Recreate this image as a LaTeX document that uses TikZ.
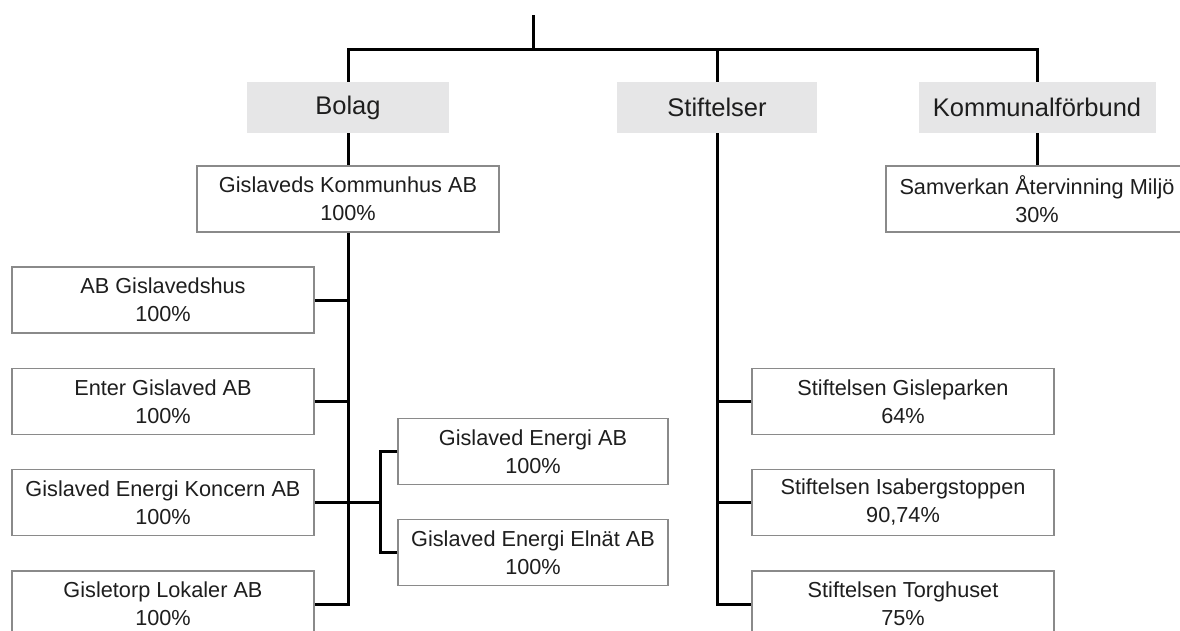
\documentclass[tikz,border=0pt]{standalone}
\usepackage{fontspec}
\setmainfont{Liberation Sans}
\definecolor{hdr}{HTML}{E6E6E7}
\definecolor{bord}{HTML}{8A8A8A}
\definecolor{txt}{HTML}{1E1E1E}
\tikzset{
  conn/.style={line width=3pt, black},
  hdrbox/.style={fill=hdr, draw=none, minimum height=51pt, inner sep=0pt, text=txt, font=\fontsize{25.5}{30}\selectfont},
  orgbox/.style={draw=bord, line width=1.5pt, fill=white, minimum height=66pt, inner sep=0pt, align=center, text=txt, font=\fontsize{21.7}{28}\selectfont},
}
\begin{document}
\begin{tikzpicture}[x=1pt, y=-1pt]
\useasboundingbox (0,0) rectangle (1180,630);
\clip (0,0) rectangle (1180,630);
\fill[white] (0,0) rectangle (1180,630);

\coordinate (top) at (533,15);
\coordinate (j) at (533,49);
\node[hdrbox, minimum width=202pt] (bolag) at (348,107.5) {Bolag};
\node[hdrbox, minimum width=200pt] (stift) at (717,107.5) {Stiftelser};
\node[hdrbox, minimum width=237pt] (komm) at (1037,107.5) {Kommunalförbund};

\node[orgbox, minimum width=302pt] (kommunhus) at (348,199) {Gislaveds Kommunhus AB\\100\%};
\node[orgbox, minimum width=302pt] (samv) at (1037,199) {Samverkan Återvinning Miljö\\30\%};

\node[orgbox, minimum width=302pt] (ghus) at (163,300) {AB Gislavedshus\\100\%};
\node[orgbox, minimum width=302pt] (enter) at (163,401.5) {Enter Gislaved AB\\100\%};
\node[orgbox, minimum width=302pt] (koncern) at (163,502.5) {Gislaved Energi Koncern AB\\100\%};
\node[orgbox, minimum width=302pt] (torp) at (163,604) {Gisletorp Lokaler AB\\100\%};

\node[orgbox, minimum width=270pt] (energi) at (533,451.5) {Gislaved Energi AB\\100\%};
\node[orgbox, minimum width=270pt] (elnat) at (533,552.5) {Gislaved Energi Elnät AB\\100\%};

\node[orgbox, minimum width=302pt] (gisle) at (903,401.5) {Stiftelsen Gisleparken\\64\%};
\node[orgbox, minimum width=302pt] (isab) at (903,502.5) {Stiftelsen Isabergstoppen\\90,74\%};
\node[orgbox, minimum width=302pt] (torg) at (903,604) {Stiftelsen Torghuset\\75\%};

\coordinate (sub) at (380,502.5);

% top tree
\draw[conn] (top) -- (j);
\draw[conn] (bolag.north) -- (bolag.north |- j) -- (komm.north |- j) -- (komm.north);
\draw[conn] (stift.north |- j) -- (stift.north);
\draw[conn] (bolag.south) -- (kommunhus.north);
\draw[conn] (komm.south) -- (samv.north);

% Bolag branch
\draw[conn] (kommunhus.south) |- (torp.east);
\draw[conn] (ghus.east) -- (ghus.east -| kommunhus.south);
\draw[conn] (enter.east) -- (enter.east -| kommunhus.south);
\draw[conn] (koncern.east) -- (sub);
\draw[conn] (energi.west) -| (sub) |- (elnat.west);

% Stiftelser branch
\draw[conn] (stift.south) |- (torg.west);
\draw[conn] (gisle.west) -- (gisle.west -| stift.south);
\draw[conn] (isab.west) -- (isab.west -| stift.south);
\end{tikzpicture}
\end{document}
